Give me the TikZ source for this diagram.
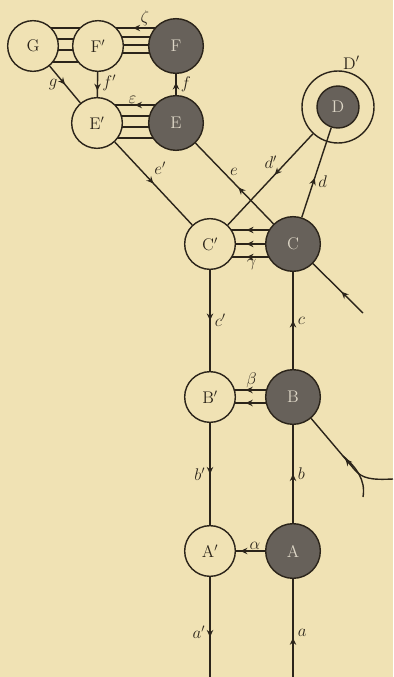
\documentclass[tikz,border=0pt]{standalone}
\usepackage{tikz}
\usetikzlibrary{arrows.meta, positioning, calc, decorations.markings, backgrounds}
\definecolor{paper}{HTML}{F0E2B4}
\definecolor{ink}{HTML}{2B241A}
\definecolor{shade}{HTML}{67615A}
\definecolor{shadetext}{HTML}{DDD6C6}
\tikzset{
    openball/.style={
        circle, draw=ink, fill=paper, line width=1.2pt, minimum size=1.52cm,
        inner sep=0pt, font=\Large, text=ink
    },
    darkball/.style={
        circle, draw=ink, fill=shade, line width=1.2pt, minimum size=1.64cm,
        inner sep=0pt, font=\Large, text=shadetext
    },
    wire/.style={
        draw=ink, line width=1.2pt
    },
    flow/.style={
        wire, postaction={decorate},
        decoration={markings, mark=at position #1 with {\arrow{Stealth[length=6pt,width=5.5pt,inset=2pt]}}}
    },
    flow/.default=0.5,
    tag/.style={
        font=\Large, text=ink, inner sep=3.5pt
    }
}

\begin{document}
\begin{tikzpicture}[x=0.03cm, y=-0.03cm]

    \useasboundingbox (0,0) rectangle (393,677);

    \node[openball] (G)  at (33,46)   {G};
    \node[openball] (Fp) at (98,46)   {F$'$};
    \node[darkball] (F)  at (176,46)  {F};
    \node[openball] (Ep) at (97,123)  {E$'$};
    \node[darkball] (E)  at (176,123) {E};
    \node[openball, minimum size=2.16cm, label={[tag, inner sep=1pt]84:D$'$}] (Dp) at (338,107) {};
    \node[darkball, minimum size=1.26cm] (D) at (338,107) {D};
    \node[openball] (Cp) at (210,244) {C$'$};
    \node[darkball] (C)  at (293,244) {C};
    \node[openball] (Bp) at (210,397) {B$'$};
    \node[darkball] (B)  at (293,397) {B};
    \node[openball] (Ap) at (210,551) {A$'$};
    \node[darkball] (A)  at (293,551) {A};

    \coordinate (aOut)  at (210,677);
    \coordinate (aIn)   at (293,677);
    \coordinate (cIn)   at (363,313);
    \coordinate (bBend) at (354,469);
    \coordinate (bEnd)  at (393,479);
    \coordinate (bFork) at (343,456);
    \coordinate (bTail) at (363,497);

    \begin{scope}[on background layer]
        \fill[paper] (0,0) rectangle (393,677);

        \foreach \dy in {-18,-7,4,16}
            \draw[wire] ($(G)+(0,\dy)$) -- ($(Fp)+(0,\dy)$);

        \draw[flow=0.55] ($(F)+(0,-18)$) -- ($(Fp)+(0,-18)$) node[tag, pos=0.4, above, inner sep=1pt] {$\zeta$};
        \foreach \dy in {-9,-1,7}
            \draw[wire] ($(F)+(0,\dy)$) -- ($(Fp)+(0,\dy)$);

        \draw[flow=0.52] ($(E)+(0,-18)$) -- ($(Ep)+(0,-18)$) node[tag, pos=0.55, above, inner sep=1pt] {$\varepsilon$};
        \foreach \dy in {-7,4,15}
            \draw[wire] ($(E)+(0,\dy)$) -- ($(Ep)+(0,\dy)$);

        \foreach \dy in {-14,0}
            \draw[flow=0.56] ($(C)+(0,\dy)$) -- ($(Cp)+(0,\dy)$);
        \draw[flow=0.56] ($(C)+(0,13)$) -- ($(Cp)+(0,13)$) node[tag, pos=0.5, below, inner sep=1pt] {$\gamma$};

        \draw[flow=0.57] ($(B)+(0,-7)$) -- ($(Bp)+(0,-7)$) node[tag, pos=0.5, above, inner sep=1pt] {$\beta$};
        \draw[flow=0.57] ($(B)+(0,6)$) -- ($(Bp)+(0,6)$);
    \end{scope}

    \draw[flow=0.85] (A)  -- (Ap) node[tag, pos=0.35, above, inner sep=1pt] {$\alpha$};

    \draw[flow=0.75] (Fp) -- (Ep) node[tag, pos=0.45, right] {$f'$};
    \draw[flow=0.6]  (E)  -- (F)  node[tag, pos=0.5, right] {$f$};
    \draw[flow]      (G)  -- (Ep) node[tag, pos=0.5, left, inner sep=6pt] {$g$};
    \draw[flow]      (Ep) -- (Cp) node[tag, pos=0.45, above right] {$e'$};
    \draw[flow=0.45] (C)  -- (E)  node[tag, pos=0.58, above right, inner sep=1pt] {$e$};
    \draw[flow=0.45] (Dp) -- (Cp) node[tag, pos=0.4, above left, inner sep=1pt] {$d'$};
    \draw[flow=0.44] (C)  -- (D)  node[tag, pos=0.4, right] {$d$};

    \draw[flow]      (Cp) -- (Bp)   node[tag, pos=0.5, right] {$c'$};
    \draw[flow]      (Bp) -- (Ap)   node[tag, pos=0.5, left] {$b'$};
    \draw[flow=0.6]  (Ap) -- (aOut) node[tag, pos=0.55, left] {$a'$};
    \draw[flow=0.4]  (aIn) -- (A)   node[tag, pos=0.45, right] {$a$};
    \draw[flow]      (A)  -- (B)    node[tag, pos=0.5, right] {$b$};
    \draw[flow]      (B)  -- (C)    node[tag, pos=0.5, right] {$c$};

    \draw[flow=0.43] (cIn) -- (C);
    \draw[wire] (bEnd) .. controls (372,480) and (362,479) .. (bBend);
    \draw[flow=0.2] (bBend) -- (B);
    \draw[wire] (bFork) .. controls (356,467) and (366,480) .. (bTail);

\end{tikzpicture}
\end{document}
